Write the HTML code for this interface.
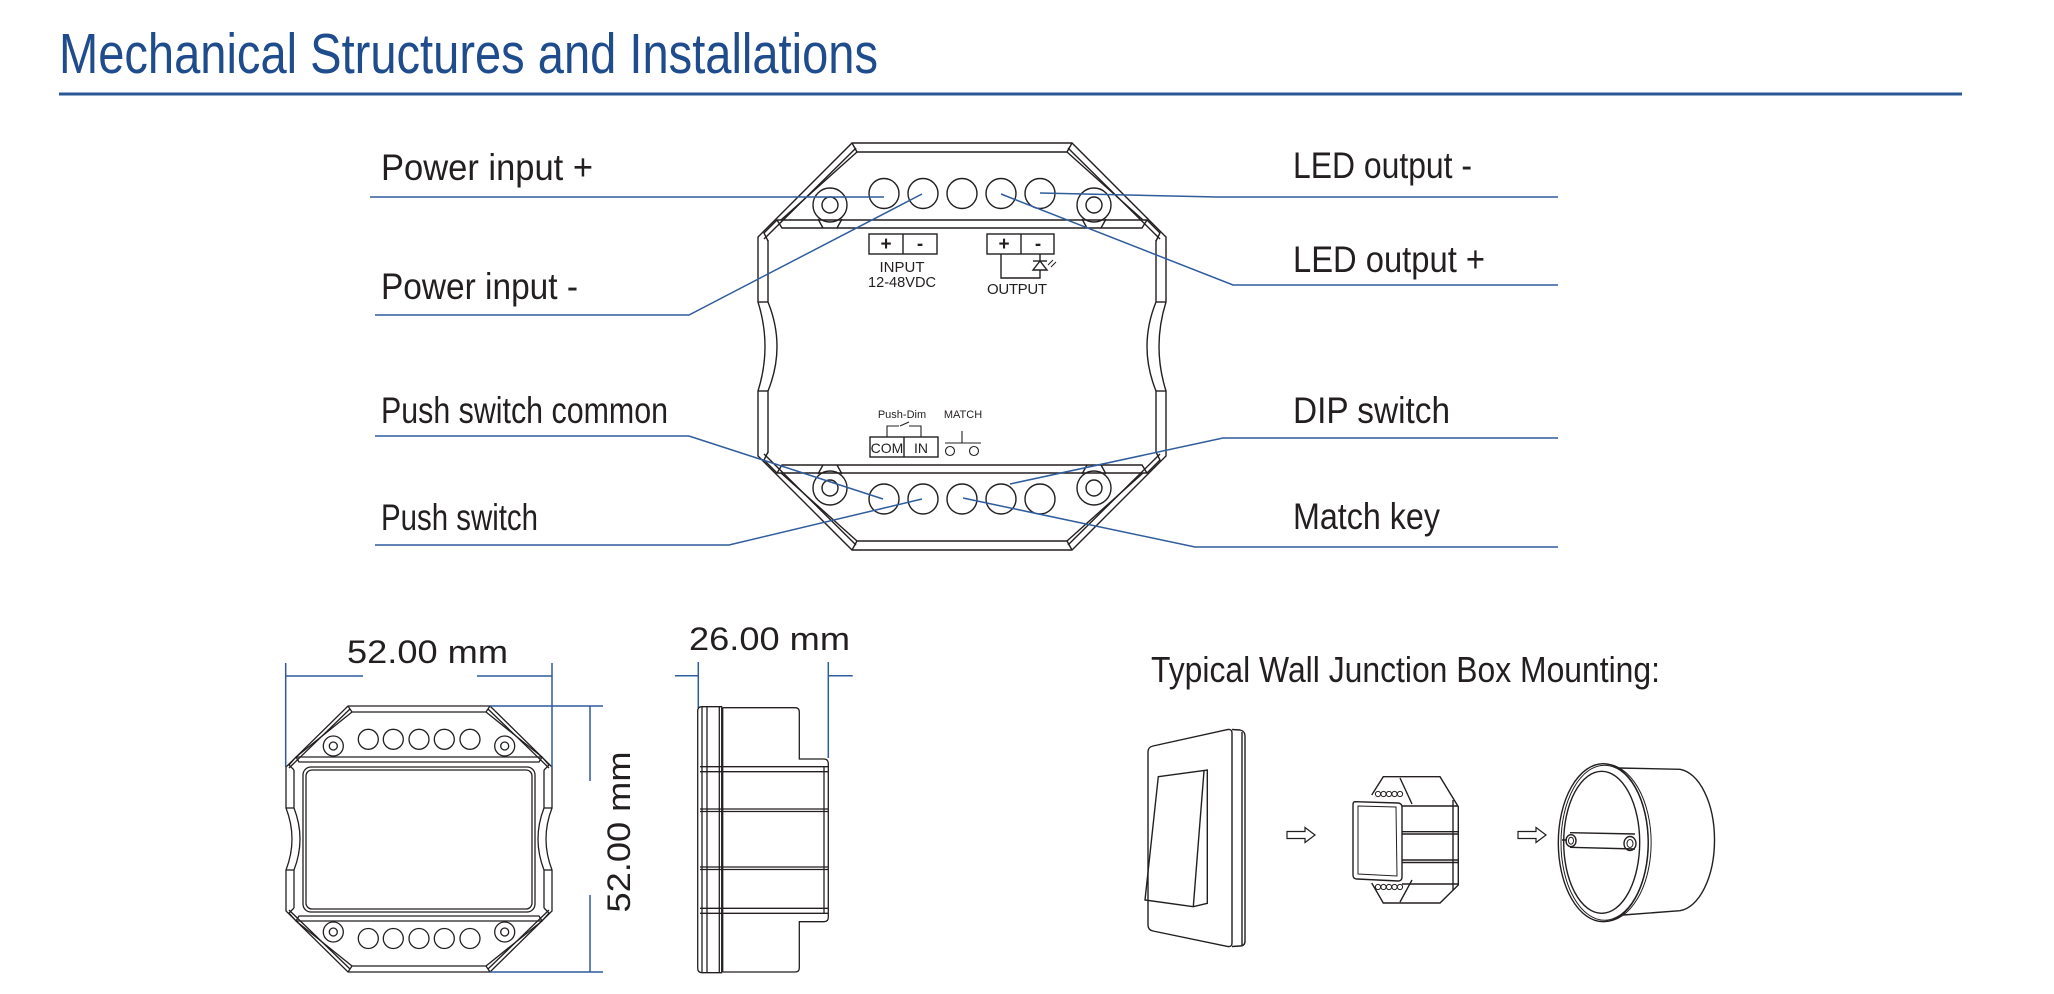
<!DOCTYPE html>
<html>
<head>
<meta charset="utf-8">
<style>
html,body{margin:0;padding:0;background:#fff;}
svg{display:block;}
text{font-family:"Liberation Sans",Arial,sans-serif;}
</style>
</head>
<body>
<svg width="2054" height="994" viewBox="0 0 2054 994" xmlns="http://www.w3.org/2000/svg">
<defs>
  <!-- main device top-left quadrant -->
  <g id="mq" fill="none" stroke="#231f20" stroke-width="1.4">
    <path d="M962,143 L852,143 L758,237 L758,302 Q765,324.25 765,346.5"/>
    <path d="M768,240 L768,302 Q777,324.25 777,346.5"/>
    <path d="M758,302 L768,302"/>
    <path d="M962,152 L857,152 L852,143"/>
    <path d="M856,148 L764,239"/>
    <path d="M857,152 L781,220"/>
    <path d="M962,220 L777,220 L764,233 L768,241"/>
    <path d="M962,228 L782,228 L777,220"/>
    <circle cx="830" cy="205" r="17"/>
    <circle cx="830" cy="205" r="8"/>
    <path d="M818,219 L823,228 M842,219 L837,228"/>
  </g>
  <!-- front view quadrant -->
  <g id="fq" fill="none" stroke="#231f20" stroke-width="1.3">
    <path d="M419,706 L348,706 L286,767 L286,808 Q292,823.5 292,839"/>
    <path d="M294,770 L294,808 Q300,823.5 300,839"/>
    <path d="M286,808 L294,808"/>
    <path d="M419,712 L352,712 L348,706"/>
    <path d="M350,709 L289,768"/>
    <path d="M352,712 L296,757"/>
    <path d="M419,757 L296,757 L289,765 L294,770"/>
    <path d="M419,762 L299,762 L296,757"/>
    <circle cx="333.3" cy="746" r="10"/>
    <circle cx="333.3" cy="746" r="4"/>
  </g>
</defs>

<!-- Title -->
<text x="59" y="73" font-size="57" fill="#1f4c8c" textLength="819" lengthAdjust="spacingAndGlyphs">Mechanical Structures and Installations</text>
<line x1="59" y1="94" x2="1962" y2="94" stroke="#2b5797" stroke-width="3"/>

<!-- Main device -->
<use href="#mq"/>
<use href="#mq" transform="matrix(-1,0,0,1,1924,0)"/>
<use href="#mq" transform="matrix(1,0,0,-1,0,693)"/>
<use href="#mq" transform="matrix(-1,0,0,-1,1924,693)"/>
<g fill="none" stroke="#231f20" stroke-width="1.4">
  <circle cx="884" cy="193.5" r="15"/>
  <circle cx="923" cy="193.5" r="15"/>
  <circle cx="962" cy="193.5" r="15"/>
  <circle cx="1001" cy="193.5" r="15"/>
  <circle cx="1040" cy="193.5" r="15"/>
  <circle cx="884" cy="499" r="15"/>
  <circle cx="923" cy="499" r="15"/>
  <circle cx="962" cy="499" r="15"/>
  <circle cx="1001" cy="499" r="15"/>
  <circle cx="1040" cy="499" r="15"/>
  <!-- input box -->
  <rect x="869" y="234" width="68" height="20"/>
  <line x1="903" y1="234" x2="903" y2="254"/>
  <!-- output box -->
  <rect x="987" y="234" width="67" height="20"/>
  <line x1="1021" y1="234" x2="1021" y2="254"/>
  <path d="M1001,254 L1001,278 L1040,278 L1040,270"/>
  <path d="M1040,254 L1040,261"/>
  <path d="M1033,261 L1047,261"/>
  <path d="M1040,261 L1033,270 L1047,270 Z"/>
  <path d="M1048,265 L1053,260 M1051,267 L1056,262" stroke-width="1"/>
  <!-- COM / IN -->
  <rect x="870" y="437" width="68" height="20"/>
  <line x1="904" y1="437" x2="904" y2="457"/>
  <path d="M887,437 L887,426 L899,426 M900,426 L909,422 M909,426 L921,426 L921,437" stroke-width="1.1"/>
  <!-- MATCH -->
  <path d="M962,431 L962,443 M945,443 L981,443" stroke-width="1.1"/>
  <circle cx="950" cy="451" r="4.5" stroke-width="1.1"/>
  <circle cx="974" cy="451" r="4.5" stroke-width="1.1"/>
</g>
<g fill="#231f20">
  <text x="886" y="250" font-size="19" font-weight="bold" text-anchor="middle">+</text>
  <text x="920" y="250" font-size="19" font-weight="bold" text-anchor="middle">-</text>
  <text x="1004" y="250" font-size="19" font-weight="bold" text-anchor="middle">+</text>
  <text x="1038" y="250" font-size="19" font-weight="bold" text-anchor="middle">-</text>
  <text x="902" y="272" font-size="15" text-anchor="middle">INPUT</text>
  <text x="902" y="287" font-size="15" text-anchor="middle" textLength="68" lengthAdjust="spacingAndGlyphs">12-48VDC</text>
  <text x="1017" y="294" font-size="15" text-anchor="middle" textLength="60" lengthAdjust="spacing">OUTPUT</text>
  <text x="902" y="418" font-size="11" text-anchor="middle">Push-Dim</text>
  <text x="963" y="418" font-size="11" text-anchor="middle">MATCH</text>
  <text x="887" y="453" font-size="14" text-anchor="middle">COM</text>
  <text x="921" y="453" font-size="14" text-anchor="middle">IN</text>
</g>

<!-- Leader lines -->
<g fill="none" stroke="#2f5c9c" stroke-width="1.5">
  <path d="M370,197 L884,197"/>
  <path d="M375,315 L689,315 L922,194"/>
  <path d="M375,436 L689,436 L883,499"/>
  <path d="M375,545 L729,545 L922,499"/>
  <path d="M1040,193 L1217,197 L1558,197"/>
  <path d="M1001,194 L1233,285 L1558,285"/>
  <path d="M1010,484 L1223,438 L1558,438"/>
  <path d="M963,498 L1195,547 L1558,547"/>
</g>

<!-- Labels -->
<g fill="#231f20" font-size="37">
  <text x="381" y="180" textLength="212" lengthAdjust="spacingAndGlyphs">Power input +</text>
  <text x="381" y="299" textLength="197" lengthAdjust="spacingAndGlyphs">Power input -</text>
  <text x="381" y="423" textLength="287" lengthAdjust="spacingAndGlyphs">Push switch common</text>
  <text x="381" y="530" textLength="157" lengthAdjust="spacingAndGlyphs">Push switch</text>
  <text x="1293" y="178" textLength="179" lengthAdjust="spacingAndGlyphs">LED output -</text>
  <text x="1293" y="272" textLength="192" lengthAdjust="spacingAndGlyphs">LED output +</text>
  <text x="1293" y="423" textLength="157" lengthAdjust="spacingAndGlyphs">DIP switch</text>
  <text x="1293" y="529" textLength="147" lengthAdjust="spacingAndGlyphs">Match key</text>
</g>

<!-- Front view -->
<use href="#fq"/>
<use href="#fq" transform="matrix(-1,0,0,1,838,0)"/>
<use href="#fq" transform="matrix(1,0,0,-1,0,1678)"/>
<use href="#fq" transform="matrix(-1,0,0,-1,838,1678)"/>
<g fill="none" stroke="#231f20" stroke-width="1.3">
  <rect x="303" y="767" width="232" height="145" rx="8"/>
  <rect x="306" y="770" width="226" height="139" rx="6"/>
  <circle cx="368.3" cy="739.3" r="10"/>
  <circle cx="393.3" cy="739.3" r="10"/>
  <circle cx="419" cy="739.3" r="10"/>
  <circle cx="444.3" cy="739.3" r="10"/>
  <circle cx="470" cy="739.3" r="10"/>
  <circle cx="368.3" cy="938.5" r="10"/>
  <circle cx="393.3" cy="938.5" r="10"/>
  <circle cx="419" cy="938.5" r="10"/>
  <circle cx="444.3" cy="938.5" r="10"/>
  <circle cx="470" cy="938.5" r="10"/>
</g>
<g fill="none" stroke="#2f5c9c" stroke-width="1.5">
  <path d="M285.7,663 L285.7,767"/>
  <path d="M552,663 L552,767"/>
  <path d="M285.7,676 L363,676 M477,676 L552,676"/>
  <path d="M590,706 L590,781 M590,895 L590,972"/>
  <path d="M490,706 L603,706 M490,972 L603,972"/>
  <!-- side view dims -->
  <path d="M698.3,662 L698.3,708 M675,675.7 L698.3,675.7"/>
  <path d="M828.3,662 L828.3,758 M828.3,675.7 L852.7,675.7"/>
</g>
<g fill="#231f20" font-size="32">
  <text x="347" y="663" textLength="161" lengthAdjust="spacingAndGlyphs">52.00 mm</text>
  <text transform="translate(630,832) rotate(-90)" text-anchor="middle" textLength="161" lengthAdjust="spacingAndGlyphs">52.00 mm</text>
  <text x="689" y="650" textLength="161" lengthAdjust="spacingAndGlyphs">26.00 mm</text>
</g>

<!-- Side view -->
<g fill="none" stroke="#231f20" stroke-width="1.3">
  <path d="M702,706.7 L721.7,706.7 L721.7,972.7 L702,972.7 Q697.7,972.7 697.7,968 L697.7,711 Q697.7,706.7 702,706.7 Z"/>
  <line x1="702" y1="707" x2="702" y2="972"/>
  <line x1="707" y1="707" x2="707" y2="972"/>
  <line x1="719.3" y1="707" x2="719.3" y2="972"/>
  <path d="M722.7,707.7 L795,707.7 Q799.3,707.7 799.3,712 L799.3,759 L824,759 Q828.3,759 828.3,764 L828.3,917 Q828.3,921.7 824,921.7 L799.3,921.7 L799.3,968 Q799.3,972 795,972 L722.7,972"/>
  <line x1="722.7" y1="707.7" x2="722.7" y2="972"/>
  <path d="M700,766.7 L828,766.7 M700,771.7 L828,771.7"/>
  <path d="M700,809 L828,809 M700,811.5 L828,811.5"/>
  <path d="M700,867 L828,867 M700,869.5 L828,869.5"/>
  <path d="M700,908.3 L828,908.3 M700,913.3 L828,913.3"/>
  <line x1="824" y1="766.7" x2="824" y2="913.3"/>
</g>

<!-- Typical Wall Junction Box Mounting -->
<text x="1151" y="682" font-size="36" fill="#231f20" textLength="509" lengthAdjust="spacingAndGlyphs">Typical Wall Junction Box Mounting:</text>

<g fill="none" stroke="#231f20" stroke-width="1.4">
  <!-- switch plate -->
  <path d="M1148,752 Q1148,747 1153,746 L1228,729.5 Q1232,729 1232,733 L1232,943 Q1232,947 1228,946.5 L1153,931 Q1148,930 1148,925 Z"/>
  <path d="M1232,729.5 L1240,730 Q1245,731 1245,736 L1245,941 Q1245,946 1240,946 L1232,946.5"/>
  <line x1="1242" y1="732" x2="1242" y2="945"/>
  <path d="M1158.3,776.7 L1207.3,770 L1207.3,903.3 L1193.3,906.7 L1145,900 Z"/>
  <line x1="1204" y1="771" x2="1193.3" y2="906.7"/>
  <!-- arrows -->
  <path d="M1287,831.5 L1305,831.5 L1305,827.5 L1315,835 L1305,842.5 L1305,838.5 L1287,838.5 Z" stroke-width="1.2"/>
  <path d="M1518,831.5 L1536,831.5 L1536,827.5 L1546,835 L1536,842.5 L1536,838.5 L1518,838.5 Z" stroke-width="1.2"/>
  <!-- module -->
  <path d="M1371.7,795 L1383.3,776.7 L1440,776.7 L1458.3,806.7 L1458.3,885 L1440,903 L1383.3,903 L1371.7,883"/>
  <path d="M1400,778 L1412,804"/>
  <path d="M1400,902 L1412,880"/>
  <path d="M1453,800 L1453,890"/>
  <path d="M1355,801.7 L1398,803 Q1402,803.5 1402,807 L1402,877 Q1402,881 1398,881 L1357,879 Q1353,879 1353,875 L1353,805 Q1353,801.7 1355,801.7 Z"/>
  <path d="M1358,806 L1396,807 L1397,876 L1358,874 Z" stroke-width="1"/>
  <path d="M1402,806 L1458,806 M1402,831.7 L1458,831.7 M1402,834 L1458,834 M1402,860 L1458,860 M1402,862.5 L1458,862.5 M1402,884 L1458,884"/>
  <g stroke-width="1">
    <circle cx="1378" cy="794" r="2.6"/><circle cx="1383.5" cy="794" r="2.6"/><circle cx="1389" cy="794" r="2.6"/><circle cx="1394.5" cy="794" r="2.6"/><circle cx="1400" cy="794" r="2.6"/>
    <circle cx="1378" cy="887" r="2.6"/><circle cx="1383.5" cy="887" r="2.6"/><circle cx="1389" cy="887" r="2.6"/><circle cx="1394.5" cy="887" r="2.6"/><circle cx="1400" cy="887" r="2.6"/>
  </g>
  <!-- junction box -->
  <path d="M1618,768 L1680,769.3 A38,71 0 0 1 1680,910.7 L1623,915"/>
  <ellipse cx="1603.3" cy="842.7" rx="45" ry="79"/>
  <ellipse cx="1604.5" cy="842.7" rx="43.5" ry="77.5" stroke-width="1"/>
  <path d="M1605,764 A46,78.5 0 0 1 1605,921.5" stroke-width="1"/>
  <ellipse cx="1601.7" cy="842.3" rx="38" ry="71"/>
  <path d="M1570,832.7 L1635,834 M1570,847.3 L1635,849 M1562,840 L1567,840"/>
  <ellipse cx="1571" cy="840.7" rx="5" ry="6"/>
  <ellipse cx="1571" cy="840.7" rx="2.5" ry="3.5" stroke-width="1"/>
  <ellipse cx="1630" cy="843.5" rx="6" ry="7"/>
  <ellipse cx="1630" cy="843.5" rx="3" ry="4" stroke-width="1"/>
</g>
</svg>
</body>
</html>
